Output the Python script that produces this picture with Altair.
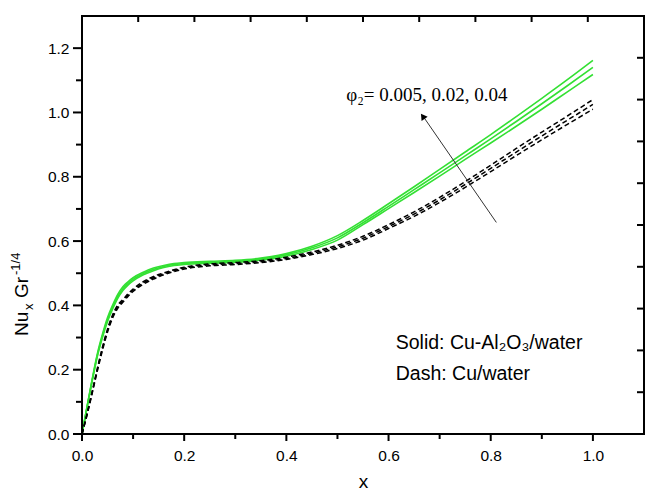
import altair as alt
import pandas as pd

# ---------------- data ----------------
X = [0, 0.01, 0.02, 0.03, 0.04, 0.05, 0.06, 0.07, 0.08, 0.09, 0.10, 0.12, 0.14, 0.16, 0.18,
     0.20, 0.25, 0.30, 0.35, 0.40, 0.45, 0.50, 0.55, 0.60, 0.65, 0.70, 0.75, 0.80, 0.85,
     0.90, 0.95, 1.00]

# Solid: Cu-Al2O3/water, phi2 = 0.005, 0.02, 0.04
G_005 = [0, 0.083, 0.165, 0.241, 0.300, 0.350, 0.389, 0.422, 0.446, 0.463, 0.476, 0.495,
         0.508, 0.518, 0.524, 0.527, 0.531, 0.534, 0.541, 0.553, 0.574, 0.603, 0.651, 0.701,
         0.751, 0.802, 0.854, 0.905, 0.957, 1.010, 1.064, 1.118]
G_02 = [0, 0.085, 0.168, 0.245, 0.305, 0.356, 0.395, 0.428, 0.452, 0.468, 0.481, 0.499,
        0.512, 0.521, 0.527, 0.530, 0.534, 0.537, 0.544, 0.557, 0.579, 0.610, 0.657, 0.708,
        0.760, 0.812, 0.865, 0.918, 0.972, 1.027, 1.083, 1.140]
G_04 = [0, 0.087, 0.171, 0.249, 0.310, 0.362, 0.401, 0.434, 0.458, 0.473, 0.486, 0.503,
        0.516, 0.524, 0.530, 0.533, 0.537, 0.540, 0.547, 0.561, 0.584, 0.617, 0.664, 0.716,
        0.769, 0.823, 0.877, 0.931, 0.987, 1.044, 1.102, 1.162]

# Dash: Cu/water, phi2 = 0.005, 0.02, 0.04
D_005 = [0, 0.060, 0.127, 0.196, 0.260, 0.317, 0.361, 0.391, 0.410, 0.428, 0.443, 0.466,
         0.482, 0.495, 0.505, 0.513, 0.523, 0.527, 0.533, 0.543, 0.558, 0.577, 0.603, 0.639,
         0.677, 0.720, 0.767, 0.816, 0.866, 0.915, 0.963, 1.010]
D_02 = [0, 0.062, 0.130, 0.200, 0.265, 0.322, 0.366, 0.396, 0.414, 0.432, 0.447, 0.470,
        0.486, 0.498, 0.508, 0.516, 0.526, 0.530, 0.536, 0.546, 0.562, 0.582, 0.609, 0.645,
        0.684, 0.728, 0.776, 0.826, 0.877, 0.927, 0.976, 1.025]
D_04 = [0, 0.064, 0.133, 0.204, 0.270, 0.327, 0.371, 0.401, 0.418, 0.436, 0.451, 0.474,
        0.490, 0.501, 0.511, 0.519, 0.529, 0.533, 0.539, 0.550, 0.566, 0.587, 0.615, 0.651,
        0.691, 0.736, 0.785, 0.836, 0.888, 0.939, 0.989, 1.040]

X_MAJOR = [0.0, 0.2, 0.4, 0.6, 0.8, 1.0]
X_MINOR = [0.1, 0.3, 0.5, 0.7, 0.9]
Y_MAJOR = [0.0, 0.2, 0.4, 0.6, 0.8, 1.0, 1.2]
Y_MINOR = [0.1, 0.3, 0.5, 0.7, 0.9, 1.1]
TOP_TICKS = [0.11, 0.22, 0.33, 0.44, 0.55, 0.66, 0.77, 0.88, 0.99]
RIGHT_TICKS = [0.13, 0.26, 0.39, 0.52, 0.65, 0.78, 0.91, 1.04, 1.17]

ARROW_X = [0.811, 0.669]
ARROW_Y = [0.658, 0.985]
ARROW_HEAD = (0.667, 0.988)

X_DOM = [0, 1.1]
Y_DOM = [0, 1.3]
W, H = 562, 418
GREEN = "#33e033"
PX_X = (X_DOM[1] - X_DOM[0]) / W   # data units per pixel
PX_Y = (Y_DOM[1] - Y_DOM[0]) / H

rows = []
for name, ys, kind in [("s005", G_005, "solid"), ("s02", G_02, "solid"), ("s04", G_04, "solid"),
                       ("d005", D_005, "dash"), ("d02", D_02, "dash"), ("d04", D_04, "dash")]:
    for xv, yv in zip(X, ys):
        rows.append({"x": xv, "y": yv, "series": name, "kind": kind})
df = pd.DataFrame(rows)

xs = alt.Scale(domain=X_DOM, nice=False, zero=False)
ysc = alt.Scale(domain=Y_DOM, nice=False, zero=False)

x_axis = alt.Axis(values=X_MAJOR, format=".1f", title="x", tickSize=6, labelPadding=8,
                  titlePadding=9, grid=False, domain=False, tickOpacity=0,
                  labelFlush=False, labelFont="Liberation Sans",
                  labelFontSize=15.5, labelColor="black", titleFont="Liberation Sans",
                  titleFontSize=19, titleColor="black", titleFontWeight="normal")
y_axis = alt.Axis(values=Y_MAJOR, format=".1f", title=None, tickSize=8, labelPadding=5,
                  grid=False, domain=False, tickOpacity=0, labelFlush=False,
                  labelFont="Liberation Sans", labelFontSize=15.5, labelColor="black")

solid = alt.Chart(df).transform_filter(alt.datum.kind == "solid").mark_line(
    color=GREEN, strokeWidth=1.6, interpolate="monotone"
).encode(
    x=alt.X("x:Q", scale=xs, axis=x_axis),
    y=alt.Y("y:Q", scale=ysc, axis=y_axis),
    detail="series:N",
)

dashed = alt.Chart(df).transform_filter(alt.datum.kind == "dash").mark_line(
    color="black", strokeWidth=1.5, strokeDash=[5, 3], interpolate="monotone"
).encode(
    x=alt.X("x:Q", scale=xs),
    y=alt.Y("y:Q", scale=ysc),
    detail="series:N",
)

# frame and ticks as polylines (positions through the scales)
pts = []


def add_path(pid, coords):
    for k, (px, py) in enumerate(coords):
        pts.append({"id": pid, "o": k, "x": px, "y": py})


add_path("frame", [(X_DOM[0], Y_DOM[0]), (X_DOM[1], Y_DOM[0]), (X_DOM[1], Y_DOM[1]),
                   (X_DOM[0], Y_DOM[1]), (X_DOM[0], Y_DOM[0])])
for i, v in enumerate(X_MAJOR):
    add_path(f"xM{i}", [(v, Y_DOM[0]), (v, Y_DOM[0] - 6 * PX_Y)])
for i, v in enumerate(X_MINOR):
    add_path(f"xm{i}", [(v, Y_DOM[0]), (v, Y_DOM[0] - 4 * PX_Y)])
for i, v in enumerate(Y_MAJOR):
    add_path(f"yM{i}", [(X_DOM[0], v), (X_DOM[0] - 8 * PX_X, v)])
for i, v in enumerate(Y_MINOR):
    add_path(f"ym{i}", [(X_DOM[0], v), (X_DOM[0] - 5 * PX_X, v)])
for i, v in enumerate(TOP_TICKS):
    add_path(f"t{i}", [(v, Y_DOM[1]), (v, Y_DOM[1] - 5 * PX_Y)])
for i, v in enumerate(RIGHT_TICKS):
    add_path(f"r{i}", [(X_DOM[1], v), (X_DOM[1] - 6 * PX_X, v)])
ptdf = pd.DataFrame(pts)

frame = alt.Chart(ptdf).mark_line(color="black", strokeWidth=2, strokeJoin="miter",
                                  strokeCap="square").encode(
    x=alt.X("x:Q", scale=xs), y=alt.Y("y:Q", scale=ysc),
    detail="id:N", order="o:Q")

arrow = alt.Chart(pd.DataFrame({"x": [ARROW_X[0]], "y": [ARROW_Y[0]],
                                "x2": [ARROW_X[1]], "y2": [ARROW_Y[1]]})).mark_rule(
    color="#333333", strokeWidth=1).encode(
    x=alt.X("x:Q", scale=xs), y=alt.Y("y:Q", scale=ysc),
    x2="x2:Q", y2="y2:Q")
head = alt.Chart(pd.DataFrame({"x": [ARROW_HEAD[0]], "y": [ARROW_HEAD[1]]})).mark_point(
    shape="triangle-up", filled=True, color="black", size=55, angle=325, opacity=1).encode(
    x=alt.X("x:Q", scale=xs), y=alt.Y("y:Q", scale=ysc))

phi_text = alt.Chart(pd.DataFrame({"x": [0.833], "y": [1.037],
                                   "t": ["\u03c6\u2082= 0.005, 0.02, 0.04"]})).mark_text(
    font="Liberation Serif", fontSize=19, align="right", baseline="alphabetic", color="black").encode(
    x=alt.X("x:Q", scale=xs), y=alt.Y("y:Q", scale=ysc), text="t:N")

legend_text = alt.Chart(pd.DataFrame({"x": [0.614, 0.614], "y": [0.264, 0.168],
                                      "t": ["Solid: Cu-Al\u2082O\u2083/water", "Dash: Cu/water"]})).mark_text(
    font="Liberation Sans", fontSize=19.5, align="left", baseline="alphabetic", color="black").encode(
    x=alt.X("x:Q", scale=xs), y=alt.Y("y:Q", scale=ysc), text="t:N")

# y-axis title built from pieces (rotated), placed in pixels left of the plot
one = pd.DataFrame({"a": [0]})


def title_piece(txt, px, py, fs):
    return alt.Chart(one).mark_text(
        font="Liberation Sans", angle=270, align="left", baseline="alphabetic",
        color="black", fontSize=fs, text=txt).encode(x=alt.value(px), y=alt.value(py))


ytitle_layers = [
    title_piece("Nu", -54, 320, 19),
    title_piece("x", -49, 294, 13),
    title_piece("Gr", -54, 282, 19),
    title_piece("-1/4", -62, 259, 13),
]

chart = alt.layer(solid, dashed, frame, arrow, head,
                  phi_text, legend_text, *ytitle_layers).properties(
    width=W, height=H,
    padding={"left": 82, "top": 16, "right": 3, "bottom": 69},
    autosize=alt.AutoSizeParams(type="none"),
    background="white",
).configure_view(stroke="black", strokeWidth=2)

chart.save("out.html", embed_options={"renderer": "svg", "actions": False})
